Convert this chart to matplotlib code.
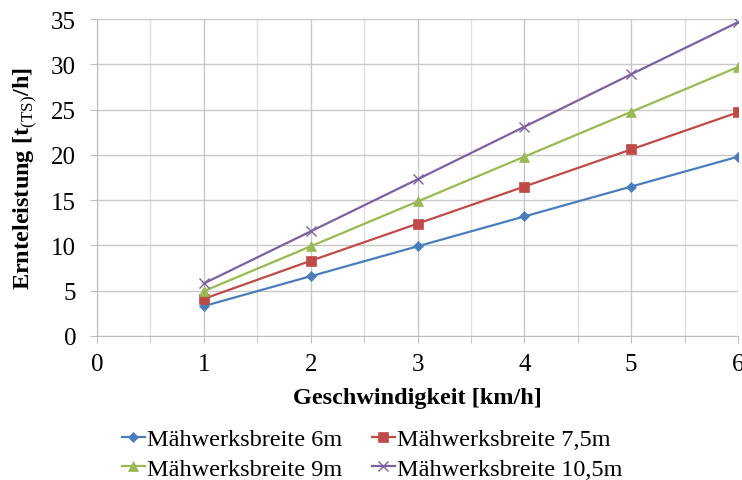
import matplotlib
matplotlib.use("Agg")
import matplotlib.pyplot as plt
from matplotlib.ticker import MultipleLocator

# Ernteleistung je Mähwerksbreite
speed = [1, 2, 3, 4, 5, 6]
w6 = [3.3, 6.6, 9.9, 13.2, 16.5, 19.8]
w75 = [4.1, 8.3, 12.4, 16.5, 20.6, 24.7]
w9 = [4.95, 9.9, 14.85, 19.8, 24.75, 29.7]
w105 = [5.8, 11.55, 17.3, 23.1, 28.9, 34.65]
labels = ["Mähwerksbreite 6m", "Mähwerksbreite 7,5m",
          "Mähwerksbreite 9m", "Mähwerksbreite 10,5m"]

plt.rcParams['font.family'] = ['Liberation Serif', 'DejaVu Serif']
plt.rcParams['mathtext.fontset'] = 'custom'
plt.rcParams['mathtext.rm'] = 'Liberation Serif'
plt.rcParams['mathtext.bf'] = 'Liberation Serif:bold'

fig = plt.figure(figsize=(7.42, 4.81), dpi=100)
ax = fig.add_axes([0.1307, 0.2994, 0.864, 0.659])

series = [
    (w6, '#4A7EBB', 'D', 5),
    (w75, '#BE4B48', 's', 7),
    (w9, '#98B954', '^', 7),
    (w105, '#7D60A0', 'x', 7),
]
lines = []
for (vals, col, mk, ms), lab in zip(series, labels):
    ln, = ax.plot(speed, vals, color=col, marker=mk, markersize=ms, lw=1.6,
                  markeredgewidth=1 if mk == 'x' else 0.5, label=lab)
    lines.append(ln)

ax.set_xlim(0, 6)
ax.set_ylim(0, 35)
ax.xaxis.set_major_locator(MultipleLocator(1))
ax.xaxis.set_minor_locator(MultipleLocator(0.5))
ax.yaxis.set_major_locator(MultipleLocator(5))
ax.grid(which='major', color='#c8c8c8', lw=1)
ax.grid(which='minor', axis='x', color='#e0e0e0', lw=1)
ax.set_axisbelow(True)
for s in ['top', 'right']:
    ax.spines[s].set_visible(False)
for s in ['left', 'bottom']:
    ax.spines[s].set_color('#bdbdbd')
ax.tick_params(which='both', color='#bdbdbd', labelsize=18, length=5)
ax.tick_params(axis='x', pad=7)
ax.tick_params(axis='y', pad=10)

ax.set_xlabel("Geschwindigkeit [km/h]", fontsize=17.5, fontweight='bold', labelpad=9)
ax.set_ylabel(r"Ernteleistung [t$_{\mathrm{(TS)}}$/h]", fontsize=17.5,
              fontweight='bold', labelpad=9)

# row-wise order like the original: 6m, 7,5m / 9m, 10,5m
order = [0, 2, 1, 3]
fig.legend([lines[i] for i in order], [labels[i] for i in order],
           loc='upper left', bbox_to_anchor=(0.164, 0.108), ncol=2, frameon=False,
           fontsize=17.5, handlelength=0.95, handletextpad=0.1, columnspacing=1.2,
           labelspacing=0.32, borderpad=0, borderaxespad=0)

fig.savefig("out.png", dpi=100)
